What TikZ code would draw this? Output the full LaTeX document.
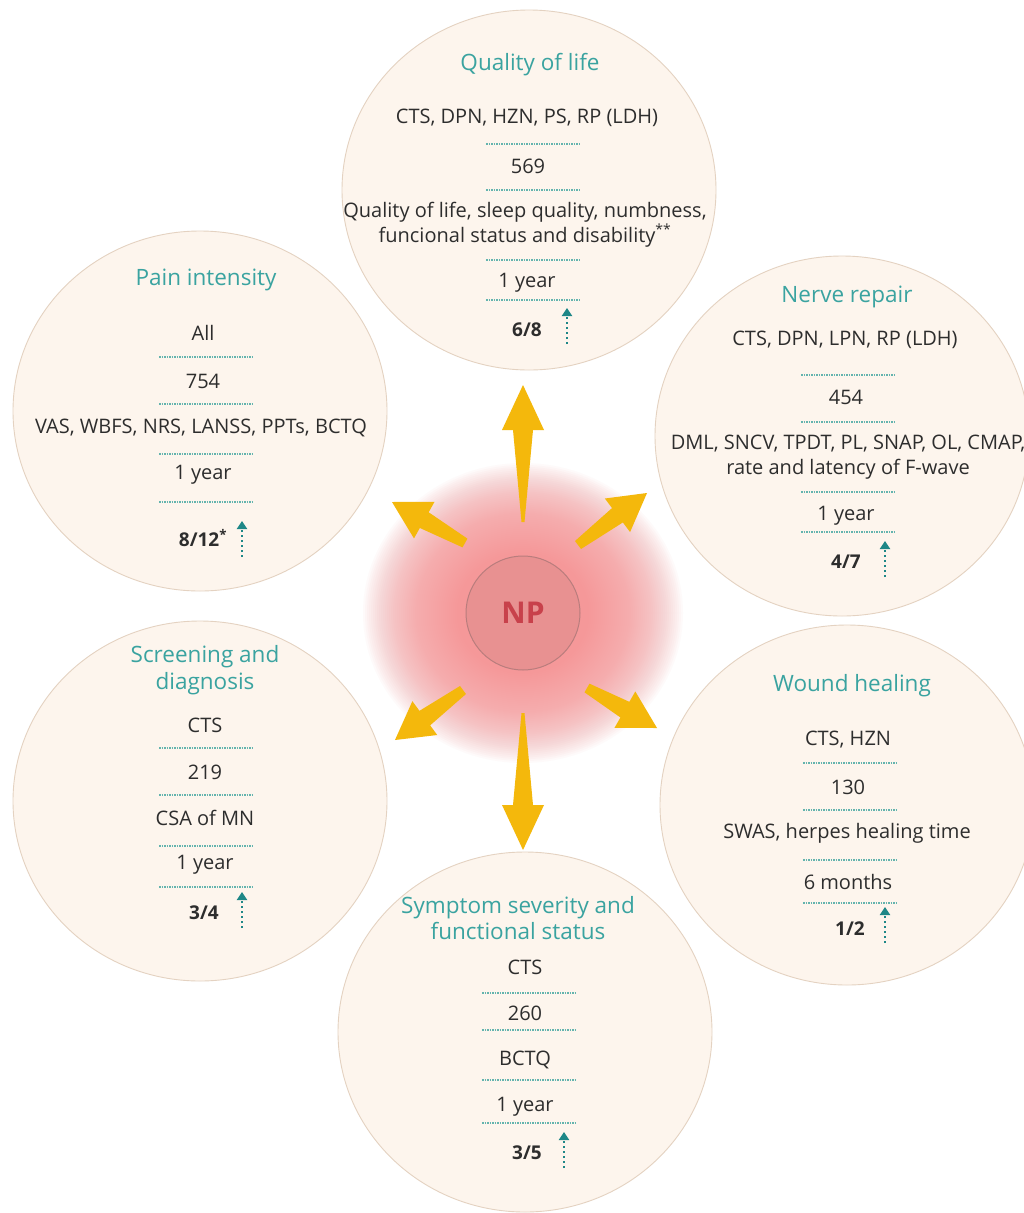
\documentclass[tikz,border=0pt]{standalone}
\usepackage{fontspec}
\setmainfont{Open Sans}
\usetikzlibrary{shapes.geometric,calc,arrows.meta}

\definecolor{bubblefill}{RGB}{253,245,237}
\definecolor{bubbleline}{RGB}{228,210,193}
\definecolor{titleteal}{RGB}{58,163,160}
\definecolor{septeal}{RGB}{100,180,174}
\definecolor{arrowteal}{RGB}{30,135,135}
\definecolor{txt}{RGB}{45,45,45}
\definecolor{goldarrow}{RGB}{244,184,12}
\definecolor{glowpink}{RGB}{245,150,152}
\definecolor{npfill}{RGB}{232,145,145}
\definecolor{npline}{RGB}{185,125,125}
\definecolor{nptext}{RGB}{200,65,75}

\newcommand\goldarr[7]{% base, tip, neck name, headlen, headhalf, neckhalf, basehalf
  \coordinate (#3) at ($(#2)!#4!(#1)$);
  \fill[goldarrow] ($(#1)!#7!90:(#2)$) -- ($(#3)!#6!90:(#2)$) -- ($(#3)!#5!90:(#2)$) -- (#2)
    -- ($(#3)!#5!-90:(#2)$) -- ($(#3)!#6!-90:(#2)$) -- ($(#1)!#7!-90:(#2)$) -- cycle;}

\newcommand\upmark[3]{% name, x, y of tip
  \coordinate (#1a) at (#2,#3+36);
  \coordinate (#1b) at (#2,#3);
  \draw[upmk] (#1a) -- (#1b);}

\newcommand\sepline[2]{\draw[sepl] (#1-47,#2) -- (#1+47,#2);}

\tikzset{
  bubble/.style={ellipse, draw=bubbleline, fill=bubblefill, line width=0.9pt,
    minimum width=374pt, minimum height=360pt, inner sep=0pt},
  body/.style={font=\fontsize{20}{25}\selectfont, text=txt, align=center, inner sep=0pt},
  ttl/.style={font=\fontsize{22.5}{26.5}\selectfont, text=titleteal, align=center, inner sep=0pt},
  frac/.style={font=\bfseries\fontsize{19}{22}\selectfont, text=txt, inner sep=0pt},
  sepl/.style={septeal, line width=1.1pt, dash pattern=on 1.6pt off 0.9pt},
  upmk/.style={arrowteal, line width=2pt, dash pattern=on 2pt off 3pt,
    -{Triangle[length=8pt,width=10pt]}},
}

\begin{document}
\begin{tikzpicture}[x=1pt,y=-1pt]
\useasboundingbox (0,0) rectangle (1023,1213);
\fill[white] (0,0) rectangle (1023,1213);

% glow
\foreach \i in {0,...,47} {
  \fill[glowpink, fill opacity=0.045] (523,613) ellipse [x radius={(160-2*\i)*1pt}, y radius={(150-1.9*\i)*1pt}];
}

% bubbles
\node[bubble] (qol) at (529,190) {};
\node[bubble] (pain) at (200,411) {};
\node[bubble] (nerve) at (842,436) {};
\node[bubble] (screen) at (200,801) {};
\node[bubble] (wound) at (847,805) {};
\node[bubble] (symp) at (525,1032) {};

% Quality of life
\node[ttl] (qolT) at (530,65) {Quality of life};
\node[body] (qol1) at (527,118) {CTS, DPN, HZN, PS, RP (LDH)};
\sepline{533}{144}
\node[body] (qol2) at (528,166) {569};
\sepline{533}{190}
\node[body] (qol3) at (525,224.5) {Quality of life, sleep quality, numbness,\\funcional status and disability\textsuperscript{**}};
\sepline{533}{260}
\node[body] (qol4) at (527,283) {1 year};
\sepline{533}{300}
\node[frac] (qol5) at (527,330) {6/8};
\upmark{qolU}{567}{308}

% Pain intensity
\node[ttl] (painT) at (206,280) {Pain intensity};
\node[body] (pain1) at (203,333) {All};
\sepline{206}{357}
\node[body] (pain2) at (203,381) {754};
\sepline{206}{404}
\node[body] (pain3) at (201,428) {VAS, WBFS, NRS, LANSS, PPTs, BCTQ};
\sepline{206}{454}
\node[body] (pain4) at (203,475) {1 year};
\sepline{206}{502}
\node[frac] (pain5) at (203,538) {8/12\textsuperscript{*}};
\upmark{painU}{242}{521}

% Nerve repair
\node[ttl] (nerveT) at (847,297) {Nerve repair};
\node[body] (nerve1) at (845,340) {CTS, DPN, LPN, RP (LDH)};
\sepline{848}{375}
\node[body] (nerve2) at (846,397) {454};
\sepline{848}{422}
\node[body] (nerve3) at (848,457.5) {DML, SNCV, TPDT, PL, SNAP, OL, CMAP,\\rate and latency of F-wave};
\sepline{848}{492}
\node[body] (nerve4) at (846,516) {1 year};
\sepline{848}{532}
\node[frac] (nerve5) at (846,562) {4/7};
\upmark{nerveU}{885}{541}

% Screening and diagnosis
\node[ttl] (screenT) at (205,670) {Screening and\\diagnosis};
\node[body] (screen1) at (205,725) {CTS};
\sepline{206}{748}
\node[body] (screen2) at (205,772) {219};
\sepline{206}{795}
\node[body] (screen3) at (205,818) {CSA of MN};
\sepline{206}{846}
\node[body] (screen4) at (205,865) {1 year};
\sepline{206}{887}
\node[frac] (screen5) at (204,913) {3/4};
\upmark{screenU}{242}{892}

% Wound healing
\node[ttl] (woundT) at (852,686) {Wound healing};
\node[body] (wound1) at (848,740) {CTS, HZN};
\sepline{850}{763}
\node[body] (wound2) at (848,787) {130};
\sepline{850}{810}
\node[body] (wound3) at (847,833) {SWAS, herpes healing time};
\sepline{850}{860}
\node[body] (wound4) at (848,882) {6 months};
\sepline{850}{903}
\node[frac] (wound5) at (850,929) {1/2};
\upmark{woundU}{885}{907}

% Symptom severity
\node[ttl] (sympT) at (518,918) {Symptom severity and\\functional status};
\node[body] (symp1) at (525,967) {CTS};
\sepline{529}{993}
\node[body] (symp2) at (525,1013) {260};
\sepline{529}{1030}
\node[body] (symp3) at (525,1060) {BCTQ};
\sepline{529}{1080}
\node[body] (symp4) at (525,1107) {1 year};
\sepline{529}{1123}
\node[frac] (symp5) at (527,1153) {3/5};
\upmark{sympU}{564}{1132}

% gold arrows
\coordinate (aUb) at (523,522); \coordinate (aUt) at (523,385);
\coordinate (aDb) at (523,713); \coordinate (aDt) at (523,850);
\coordinate (aULb) at (465,543); \coordinate (aULt) at (392,502);
\coordinate (aURb) at (578,545); \coordinate (aURt) at (647,493);
\coordinate (aLLb) at (463,690); \coordinate (aLLt) at (395,740);
\coordinate (aLRb) at (587,688); \coordinate (aLRt) at (657,728);
\goldarr{aUb}{aUt}{aUn}{45pt}{21pt}{10pt}{1.5pt}
\goldarr{aDb}{aDt}{aDn}{45pt}{21pt}{10pt}{1.5pt}
\goldarr{aULb}{aULt}{aULn}{37pt}{21pt}{9pt}{5pt}
\goldarr{aURb}{aURt}{aURn}{37pt}{21pt}{9pt}{5pt}
\goldarr{aLLb}{aLLt}{aLLn}{37pt}{21pt}{9pt}{5pt}
\goldarr{aLRb}{aLRt}{aLRn}{37pt}{21pt}{9pt}{5pt}

% center
\node[circle, fill=npfill, draw=npline, line width=1pt, minimum size=114pt, inner sep=0pt,
  text=nptext, font=\bfseries\fontsize{30}{36}\selectfont] (np) at (523,613) {NP};
\end{tikzpicture}
\end{document}
